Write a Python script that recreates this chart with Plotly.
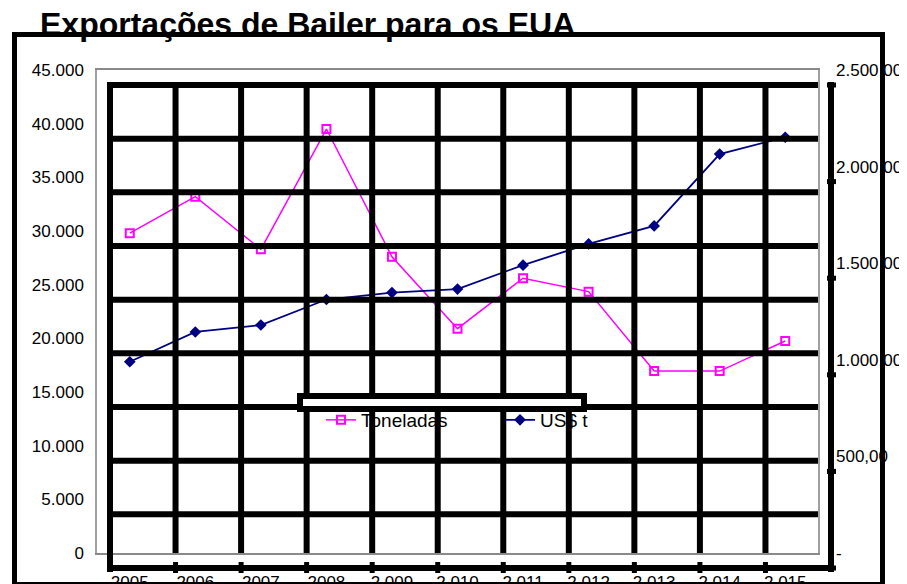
import plotly.graph_objects as go

# ---------------- data ----------------
years = ["2005", "2006", "2007", "2008", "2.009", "2.010", "2.011", "2.012", "2.013", "2.014", "2.015"]
toneladas = [29800, 33200, 28300, 39500, 27600, 20900, 25600, 24350, 16950, 16950, 19750]
usd_t = [990, 1144, 1180, 1312, 1348, 1366, 1490, 1600, 1693, 2065, 2152]

left_tickvals = [0, 5000, 10000, 15000, 20000, 25000, 30000, 35000, 40000, 45000]
right_tickvals = [0, 500, 1000, 1500, 2000, 2500]
right_ticktext = ["-", "500,00", "1.000,00", "1.500,00", "2.000,00", "2.500,00"]

title_text = "Exportações de Bailer para os EUA"

# ---------------- layout constants (window pixels) ----------------
WIN_W, WIN_H = 907, 584
OFF = 8                                # default page body margin
W, H = WIN_W - OFF, WIN_H - OFF        # figure size so it fills the window exactly
L, R, T, B = 97, 818, 70, 553          # plot area in window pixels
LMAX, RMAX = 45000, 2500
DX, DY = 13, 15                        # offset of the heavy overlay grid
FONT = "Liberation Sans, Arial, sans-serif"


def fx(px):   # window pixel -> plot-area ("paper") fraction
    return (px - L) / (R - L)


def fy(py):
    return (B - py) / (B - T)


def line(x0, y0, x1, y1, w=6, color="black"):
    return dict(type="line", xref="paper", yref="paper",
                x0=fx(x0), y0=fy(y0), x1=fx(x1), y1=fy(y1),
                line=dict(color=color, width=w), layer="above")


fig = go.Figure()
fig.add_trace(go.Scatter(
    x=years, y=toneladas, name="Toneladas", mode="lines+markers",
    line=dict(color="#FF00FF", width=1.5),
    marker=dict(symbol="square-open", size=8, color="#FF00FF", line=dict(width=2, color="#FF00FF")),
))
fig.add_trace(go.Scatter(
    x=years, y=usd_t, name="US$ t", mode="lines+markers", yaxis="y2",
    line=dict(color="#000080", width=1.8),
    marker=dict(symbol="diamond", size=9, color="#000080"),
))

shapes = []
n = len(years)
cw = (R - L) / n
# heavy horizontal lines (shifted copy of the value grid)
for v in left_tickvals:
    py = B - v / LMAX * (B - T) + DY
    if v == 0:
        shapes.append(line(L + DX - 3, py, R + DX + 3, py))
    else:
        shapes.append(line(L + DX - 3, py, R, py))
# heavy vertical lines at category boundaries
for j in range(n + 1):
    px = L + j * cw + DX
    if j == 0 or j == n:
        shapes.append(line(px, T + DY - 3, px, B + DY + 4))
    else:
        shapes.append(line(px, T + DY - 3, px, B))
        shapes.append(line(px, B + DY - 6, px, B + DY + 5, w=5))
# right axis tick marks
for v in right_tickvals:
    py = B - v / RMAX * (B - T) + DY
    shapes.append(line(R + DX - 4, py, R + DX + 5, py, w=5))
# legend frame
shapes.append(dict(type="rect", xref="paper", yref="paper",
                   x0=fx(300), y0=fy(396), x1=fx(584), y1=fy(409),
                   fillcolor="white", line=dict(color="black", width=6), layer="above"))
# outer frame
shapes.append(dict(type="rect", xref="paper", yref="paper",
                   x0=fx(14.5), y0=fy(34.5), x1=fx(882.5), y1=fy(584.5),
                   line=dict(color="black", width=5), layer="above"))

fig.update_layout(
    width=W, height=H,
    margin=dict(l=L - OFF, r=WIN_W - R, t=T - OFF, b=WIN_H - B, autoexpand=False),
    paper_bgcolor="white", plot_bgcolor="white",
    separators=",.",
    font=dict(family=FONT, size=17, color="black"),
    title=dict(text=title_text, x=(40 - OFF) / W, xanchor="left", y=1 - 5 / H, yanchor="top",
               automargin=False,
               font=dict(family=FONT, size=32, color="black", weight="bold")),
    xaxis=dict(type="category", categoryorder="array", categoryarray=years, automargin=False,
               showgrid=False, showline=True, linecolor="#8a8a8a", linewidth=1.5, mirror=True,
               ticks="", ticklabelstandoff=13, tickfont=dict(size=17), range=[-0.5, n - 0.5]),
    yaxis=dict(range=[0, LMAX], tickvals=left_tickvals, tickformat=",d", automargin=False,
               showgrid=False, zeroline=False, showline=True, linecolor="#a0a0a0", linewidth=1.5,
               mirror=True, ticks="", ticklabelstandoff=8, tickfont=dict(size=17)),
    yaxis2=dict(range=[0, RMAX], tickvals=right_tickvals, ticktext=right_ticktext, automargin=False,
                overlaying="y", side="right", showgrid=False, zeroline=False, showline=False,
                ticks="", ticklabelstandoff=17, tickfont=dict(size=17)),
    legend=dict(orientation="h", x=fx(321), xanchor="left", y=fy(420), yanchor="middle",
                bgcolor="rgba(0,0,0,0)", font=dict(size=19), entrywidth=134, entrywidthmode="pixels"),
    shapes=shapes,
    showlegend=True,
)

fig.write_html("out.html")
